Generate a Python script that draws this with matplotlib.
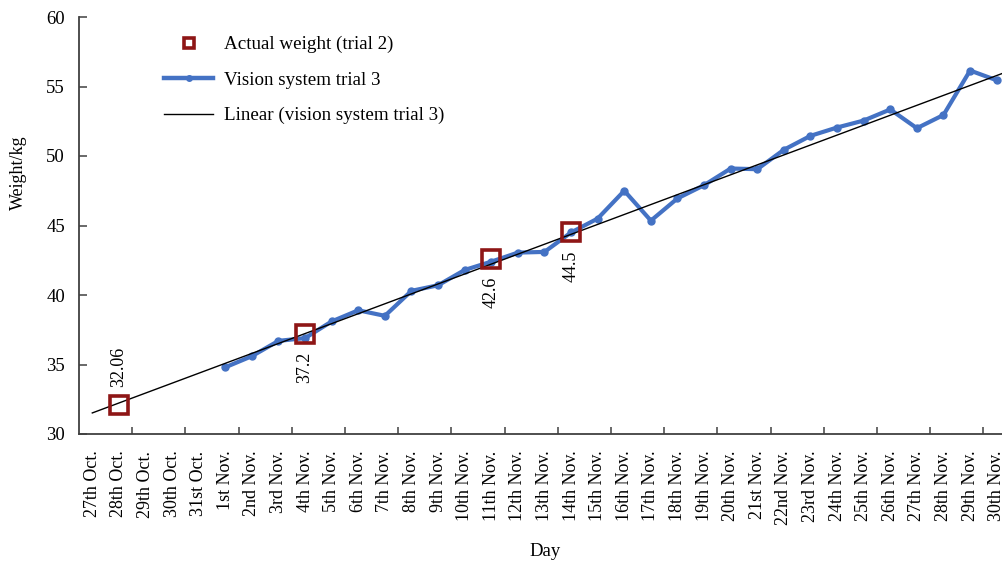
import numpy as np
import matplotlib
matplotlib.use("Agg")
import matplotlib.pyplot as plt
from matplotlib.lines import Line2D

plt.rcParams['font.family'] = ['Liberation Serif', 'DejaVu Serif']

days = ["27th Oct.", "28th Oct.", "29th Oct.", "30th Oct.", "31st Oct.",
        "1st Nov.", "2nd Nov.", "3rd Nov.", "4th Nov.", "5th Nov.", "6th Nov.",
        "7th Nov.", "8th Nov.", "9th Nov.", "10th Nov.", "11th Nov.", "12th Nov.",
        "13th Nov.", "14th Nov.", "15th Nov.", "16th Nov.", "17th Nov.", "18th Nov.",
        "19th Nov.", "20th Nov.", "21st Nov.", "22nd Nov.", "23rd Nov.", "24th Nov.",
        "25th Nov.", "26th Nov.", "27th Nov.", "28th Nov.", "29th Nov.", "30th Nov."]

vision_trial3 = [np.nan, np.nan, np.nan, np.nan, np.nan,
                 34.8, 35.6, 36.7, 36.9, 38.1, 38.9, 38.5, 40.3, 40.7, 41.8,
                 42.4, 43.05, 43.1, 44.5, 45.5, 47.5, 45.35, 46.95, 47.9, 49.1,
                 49.05, 50.45, 51.45, 52.05, 52.55, 53.35, 52.0, 52.95, 56.15, 55.45]

actual_days = ["28th Oct.", "4th Nov.", "11th Nov.", "14th Nov."]
actual_weight = [32.06, 37.2, 42.6, 44.5]
label_above = [True, False, False, False]

blue = '#4472C4'
red = '#8E1616'

fig = plt.figure(figsize=(10.02, 5.63), dpi=100)
ax = fig.add_axes([79/1002, 1-434/563, 1-79/1002, (434-17)/563])

x = np.arange(len(days))
v = np.array(vision_trial3)

# trend line (linear fit of the vision series, forecast backward to the first day)
mask = ~np.isnan(v)
coef = np.polyfit(x[mask], v[mask], 1)
xt = np.array([0, len(days) - 1 + 0.2])
ax.plot(xt, np.polyval(coef, xt), color='black', lw=1.0, zorder=3, clip_on=False)

ax.plot(x, v, color=blue, lw=3.0, marker='o', ms=5, zorder=2)

ax_idx = [days.index(d) for d in actual_days]
ax.plot(ax_idx, actual_weight, linestyle='none', marker='s', ms=13,
        mfc='none', mec=red, mew=2.6, zorder=4)

for xi, yi, above in zip(ax_idx, actual_weight, label_above):
    if above:
        ax.annotate(f"{yi:g}", (xi, yi), xytext=(0, 13), textcoords='offset points',
                    rotation=90, ha='center', va='bottom', fontsize=13)
    else:
        ax.annotate(f"{yi:g}", (xi, yi), xytext=(0, -13), textcoords='offset points',
                    rotation=90, ha='center', va='top', fontsize=13)

ax.set_xlim(-0.5, 34.2)
ax.set_ylim(30, 60)
ax.set_yticks(np.arange(30, 61, 5))
ax.set_xticks(np.arange(1.5, 34, 2))
ax.set_xticklabels([])
ax.set_xticks(x, minor=True)
ax.set_xticklabels(days, minor=True, rotation=90, fontsize=13)
ax.tick_params(axis='x', which='minor', length=0, pad=12)
ax.tick_params(axis='x', which='major', direction='in', length=5, width=1.1, color='#404040')
ax.tick_params(axis='y', direction='in', length=6, width=1.1, color='#404040',
               labelsize=13.5, pad=10)

for s in ['top', 'right']:
    ax.spines[s].set_visible(False)
for s in ['left', 'bottom']:
    ax.spines[s].set_linewidth(1.3)
    ax.spines[s].set_color('#404040')

fig.text(18/1002, 1-173/563, "Weight/kg", rotation=90, ha='center', va='center', fontsize=13)
fig.text(545/1002, 1-551/563, "Day", ha='center', va='center', fontsize=13.5)

handles = [
    Line2D([], [], linestyle='none', marker='s', ms=6.5, mfc='none', mec=red, mew=2.6),
    Line2D([], [], color=blue, lw=3.2, marker='o', ms=4),
    Line2D([], [], color='black', lw=1.0),
]
labels = ["Actual weight (trial 2)", "Vision system trial 3", "Linear (vision system trial 3)"]
fig.legend(handles, labels, loc='upper left', bbox_to_anchor=(164/1002, 1-36/563),
           frameon=False, fontsize=13.7, handlelength=2.6, handletextpad=0.55,
           labelspacing=0.95, borderpad=0, borderaxespad=0)

fig.savefig("out.png", dpi=100)
